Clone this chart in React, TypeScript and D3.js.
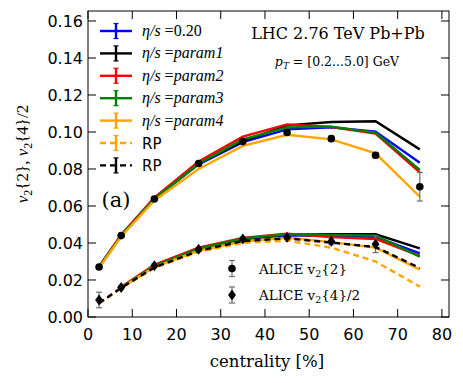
import React from "react";
import * as d3 from "d3";

// centrality bins (%)
const cent = [2.5, 7.5, 15, 25, 35, 45, 55, 65, 75];
const centLow = [7.5, 15, 25, 35, 45, 55, 65, 75];

// model v2{2} curves (upper band)
const upBlue = [0.027, 0.044, 0.064, 0.0825, 0.0945, 0.1014, 0.1025, 0.1002, 0.0834];
const upBlack = [0.027, 0.044, 0.064, 0.083, 0.095, 0.1036, 0.1054, 0.1058, 0.0906];
const upRed = [0.0272, 0.0445, 0.0645, 0.084, 0.0975, 0.1041, 0.1027, 0.0991, 0.0782];
const upGreen = [0.027, 0.044, 0.064, 0.0828, 0.096, 0.1025, 0.1029, 0.0996, 0.0795];
const upOrange = [0.0265, 0.0435, 0.063, 0.08, 0.0925, 0.0985, 0.096, 0.0885, 0.065];

// model v2{4}/2 curves (lower band, from 7.5%)
const loBlue = [0.016, 0.0275, 0.0368, 0.042, 0.0442, 0.0438, 0.0433, 0.0344];
const loBlack = [0.016, 0.0275, 0.0368, 0.0422, 0.0445, 0.0447, 0.0447, 0.0371];
const loRed = [0.0162, 0.0282, 0.0375, 0.0428, 0.045, 0.0432, 0.0422, 0.033];
const loGreen = [0.016, 0.0277, 0.037, 0.0425, 0.0447, 0.0443, 0.044, 0.0326];
const loOrange = [0.0158, 0.027, 0.0358, 0.0408, 0.0428, 0.0405, 0.0375, 0.0256];

// reaction-plane v2 (dashed)
const rpBlack = [0.0075, 0.0158, 0.0268, 0.0358, 0.041, 0.0425, 0.0402, 0.0378, 0.0265];
const rpOrange = [0.0072, 0.0155, 0.0265, 0.0352, 0.04, 0.0413, 0.0375, 0.03, 0.0164];

// ALICE data
const alice2 = [0.027, 0.044, 0.0638, 0.083, 0.0948, 0.0997, 0.0964, 0.0874, 0.0704];
const alice2Err = [0.0006, 0.0006, 0.0008, 0.001, 0.001, 0.0012, 0.0014, 0.0015, 0.0077];
const cent4 = [2.5, 7.5, 15, 25, 35, 45, 55, 65];
const alice4 = [0.0092, 0.016, 0.0277, 0.0366, 0.0422, 0.0431, 0.0409, 0.0393];
const alice4Err = [0.0042, 0.001, 0.001, 0.001, 0.001, 0.0012, 0.0018, 0.0045];

const xTicks = [0, 10, 20, 30, 40, 50, 60, 70, 80];
const yTicks = [0, 0.02, 0.04, 0.06, 0.08, 0.1, 0.12, 0.14, 0.16];

const legendItems = [
  { label: "0.20", color: "blue", dashed: false, math: true },
  { label: "param1", color: "black", dashed: false, math: true },
  { label: "param2", color: "red", dashed: false, math: true },
  { label: "param3", color: "green", dashed: false, math: true },
  { label: "param4", color: "orange", dashed: false, math: true },
  { label: "RP", color: "orange", dashed: true, math: false },
  { label: "RP", color: "black", dashed: true, math: false },
];

const W = 463;
const H = 383;
const M = { left: 88, right: 449, top: 11, bottom: 317 };
const SERIF = "'Liberation Serif', 'DejaVu Serif', serif";
const DSERIF = "'DejaVu Serif', serif";
const SANS = "'DejaVu Sans', sans-serif";

export default function App() {
  const x = d3.scaleLinear().domain([0, 81.6]).range([M.left, M.right]);
  const y = d3.scaleLinear().domain([0, 0.1654]).range([M.bottom, M.top]);

  const line = (xs: number[], ys: number[]) =>
    d3.line<number>().x((_, i) => x(xs[i])).y((d) => y(d))(ys) || "";

  const solid = [
    { up: upBlue, lo: loBlue, color: "blue" },
    { up: upBlack, lo: loBlack, color: "black" },
    { up: upRed, lo: loRed, color: "red" },
    { up: upGreen, lo: loGreen, color: "green" },
    { up: upOrange, lo: loOrange, color: "orange" },
  ];

  const errColor = "#6e6e6e";
  const diamond = (cx: number, cy: number, r: number) =>
    `M${cx},${cy - r}L${cx + r * 0.72},${cy}L${cx},${cy + r}L${cx - r * 0.72},${cy}Z`;

  const errBar = (cx: number, lo: number, hi: number) => (
    <>
      <line x1={cx} x2={cx} y1={lo} y2={hi} stroke={errColor} strokeWidth={1.2} />
      <line x1={cx - 3} x2={cx + 3} y1={lo} y2={lo} stroke={errColor} strokeWidth={1.2} />
      <line x1={cx - 3} x2={cx + 3} y1={hi} y2={hi} stroke={errColor} strokeWidth={1.2} />
    </>
  );

  return (
    <svg
      width={W}
      height={H}
      style={{ position: "absolute", left: 0, top: 0, background: "white" }}
    >
      {/* model curves */}
      {solid.map((s) => (
        <g key={s.color}>
          <path d={line(cent, s.up)} fill="none" stroke={s.color} strokeWidth={2.4} />
          <path d={line(centLow, s.lo)} fill="none" stroke={s.color} strokeWidth={2.4} />
        </g>
      ))}
      <path d={line(cent, rpOrange)} fill="none" stroke="orange" strokeWidth={2.4} strokeDasharray="6,4" />
      <path d={line(cent, rpBlack)} fill="none" stroke="black" strokeWidth={2.4} strokeDasharray="6,4" />

      {/* ALICE v2{2} */}
      {cent.map((c, i) => (
        <g key={"a2" + i}>
          {errBar(x(c), y(alice2[i] - alice2Err[i]), y(alice2[i] + alice2Err[i]))}
          <circle cx={x(c)} cy={y(alice2[i])} r={3.8} fill="black" />
        </g>
      ))}
      {/* ALICE v2{4}/2 */}
      {cent4.map((c, i) => (
        <g key={"a4" + i}>
          {errBar(x(c), y(alice4[i] - alice4Err[i]), y(alice4[i] + alice4Err[i]))}
          <path d={diamond(x(c), y(alice4[i]), 5.5)} fill="black" />
        </g>
      ))}

      {/* frame + ticks */}
      <rect x={M.left} y={M.top} width={M.right - M.left} height={M.bottom - M.top} fill="none" stroke="black" strokeWidth={1} />
      {xTicks.map((t) => (
        <g key={"xt" + t}>
          <line x1={x(t)} x2={x(t)} y1={M.bottom} y2={M.bottom - 8} stroke="black" />
          <line x1={x(t)} x2={x(t)} y1={M.top} y2={M.top + 8} stroke="black" />
          <text x={x(t)} y={340} textAnchor="middle" fontFamily={SANS} fontSize={16}>
            {t}
          </text>
        </g>
      ))}
      {yTicks.map((t) => (
        <g key={"yt" + t}>
          <line x1={M.left} x2={M.left + 8} y1={y(t)} y2={y(t)} stroke="black" />
          <line x1={M.right} x2={M.right - 8} y1={y(t)} y2={y(t)} stroke="black" />
          <text x={M.left - 5} y={y(t)} dy="0.36em" textAnchor="end" fontFamily={SANS} fontSize={16}>
            {t.toFixed(2)}
          </text>
        </g>
      ))}

      {/* axis labels */}
      <text x={267} y={367} textAnchor="middle" fontFamily={DSERIF} fontSize={16.5}>
        centrality [%]
      </text>
      <text transform="translate(28,154) rotate(-90)" textAnchor="middle" fontFamily={SERIF} fontSize={17}>
        <tspan fontStyle="italic">v</tspan>
        <tspan fontSize={12} dy={4}>2</tspan>
        <tspan dy={-4}>{"{2}, "}</tspan>
        <tspan fontStyle="italic">v</tspan>
        <tspan fontSize={12} dy={4}>2</tspan>
        <tspan dy={-4}>{"{4}/2"}</tspan>
      </text>

      {/* annotations */}
      <text x={338} y={39} textAnchor="middle" fontFamily={DSERIF} fontSize={16}>
        LHC 2.76 TeV Pb+Pb
      </text>
      <text x={337} y={66} textAnchor="middle" fontFamily={DSERIF} fontSize={12.5}>
        <tspan fontStyle="italic">p</tspan>
        <tspan fontStyle="italic" fontSize={9} dy={3}>T</tspan>
        <tspan dy={-3}>{" = [0.2...5.0] GeV"}</tspan>
      </text>
      <text x={116} y={207} textAnchor="middle" fontFamily={DSERIF} fontSize={21}>
        (a)
      </text>

      {/* model legend */}
      {legendItems.map((it, i) => {
        const ly = 31 + i * 22.4;
        return (
          <g key={"lg" + i}>
            <line x1={100} x2={132} y1={ly} y2={ly} stroke={it.color} strokeWidth={2.4} strokeDasharray={it.dashed ? "6,4" : undefined} />
            <line x1={116} x2={116} y1={ly - 7.5} y2={ly + 7.5} stroke={it.color} strokeWidth={2.4} />
            <line x1={113.5} x2={118.5} y1={ly - 7.5} y2={ly - 7.5} stroke={it.color} strokeWidth={1.2} />
            <line x1={113.5} x2={118.5} y1={ly + 7.5} y2={ly + 7.5} stroke={it.color} strokeWidth={1.2} />
            {it.math ? (
              <text x={142} y={ly + 5} fontFamily={SERIF} fontSize={16}>
                <tspan fontStyle="italic">{"η/s"}</tspan>
                <tspan>{" ="}</tspan>
                <tspan fontStyle={it.label === "0.20" ? "normal" : "italic"}>{it.label}</tspan>
              </text>
            ) : (
              <text x={142} y={ly + 5.5} fontFamily={SANS} fontSize={15}>
                {it.label}
              </text>
            )}
          </g>
        );
      })}

      {/* data legend */}
      {[0, 1].map((k) => {
        const ly = k === 0 ? 268.5 : 295;
        return (
          <g key={"dl" + k}>
            {errBar(232, ly - 8, ly + 8)}
            {k === 0 ? <circle cx={232} cy={ly} r={3.8} fill="black" /> : <path d={diamond(232, ly, 5.5)} fill="black" />}
            <text x={259} y={ly + 5} fontFamily={DSERIF} fontSize={13.5}>
              <tspan>ALICE v</tspan>
              <tspan fontSize={9.5} dy={3}>2</tspan>
              <tspan dy={-3}>{k === 0 ? "{2}" : "{4}/2"}</tspan>
            </text>
          </g>
        );
      })}
    </svg>
  );
}
